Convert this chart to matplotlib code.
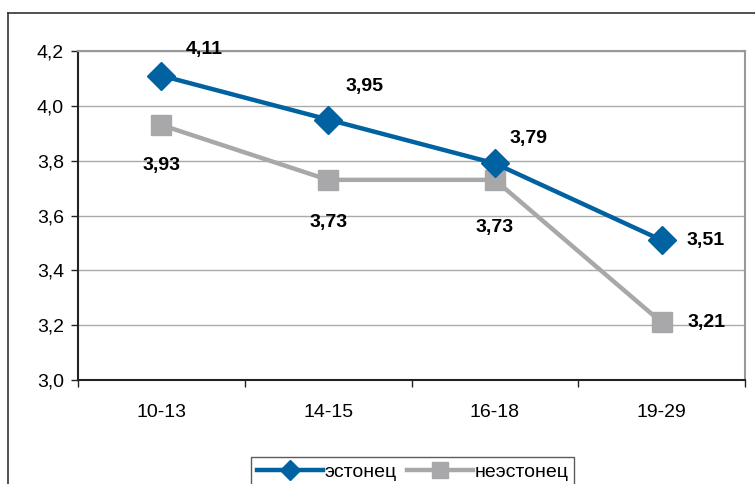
import matplotlib.pyplot as plt
from matplotlib.lines import Line2D
import numpy as np

plt.rcParams['font.family'] = ['Liberation Sans', 'DejaVu Sans']

# Data
groups = ['10-13', '14-15', '16-18', '19-29']
estonian = [4.11, 3.95, 3.79, 3.51]
non_estonian = [3.93, 3.73, 3.73, 3.21]
series_names = ['эстонец', 'неэстонец']

blue = '#0062A0'
grey = '#A8A8AA'

fig = plt.figure(figsize=(7.55, 4.84), dpi=100)
ax = fig.add_axes([78 / 755, 1 - 380 / 484, 667 / 755, 329 / 484])

x = np.arange(len(groups))
l1, = ax.plot(x, estonian, color=blue, lw=3.2, marker='D', ms=14, zorder=4)
l2, = ax.plot(x, non_estonian, color=grey, lw=3.2, marker='s', ms=14.5, zorder=3)

# data labels (offsets in points)
lab_est = [(31, 19), (26, 24), (24, 18), (32, 0)]
lab_non = [(0, -29), (0, -31), (0, -34), (32, 0)]
for i in range(len(groups)):
    ax.annotate(f'{estonian[i]:.2f}'.replace('.', ','), (x[i], estonian[i]),
                xytext=lab_est[i], textcoords='offset points',
                ha='center', va='center', fontsize=14, fontweight='bold')
    ax.annotate(f'{non_estonian[i]:.2f}'.replace('.', ','), (x[i], non_estonian[i]),
                xytext=lab_non[i], textcoords='offset points',
                ha='center', va='center', fontsize=14, fontweight='bold')

ax.set_xlim(-0.5, len(groups) - 0.5)
ax.set_ylim(3.0, 4.2)
yt = np.arange(3.0, 4.21, 0.2)
ax.set_yticks(yt)
ax.set_yticklabels([f'{v:.1f}'.replace('.', ',') for v in yt])
ax.set_xticks(x)
ax.set_xticklabels(groups)
ax.set_xticks(np.arange(-0.5, len(groups), 1), minor=True)
ax.tick_params(axis='x', which='major', length=0, pad=17, labelsize=14)
ax.tick_params(axis='x', which='minor', length=5, width=1, color='#222222')
ax.tick_params(axis='y', length=5, width=1, color='#222222', labelsize=14, pad=5)
ax.grid(axis='y', color='#AAAAAA', lw=1)
ax.set_axisbelow(True)

for s in ['left', 'bottom']:
    ax.spines[s].set_color('#222222')
    ax.spines[s].set_linewidth(1.5)
for s in ['top', 'right']:
    ax.spines[s].set_color('#999999')
    ax.spines[s].set_linewidth(1.5)

leg = fig.legend([l1, l2], series_names, loc='lower left',
                 bbox_to_anchor=(241 / 755, -0.025), ncol=2, frameon=True,
                 fancybox=False, edgecolor='#333333', fontsize=14,
                 handlelength=3.4, handletextpad=0.1, columnspacing=0.5,
                 borderpad=0.3, markerscale=0.75)
leg.get_frame().set_linewidth(1)

# outer chart frame
fig.add_artist(Line2D([8 / 755, 8 / 755], [0, 1 - 13 / 484], color='#333333', lw=1.2))
fig.add_artist(Line2D([8 / 755, 1], [1 - 13 / 484, 1 - 13 / 484], color='#333333', lw=1.2))

fig.savefig('out.png', dpi=100)
